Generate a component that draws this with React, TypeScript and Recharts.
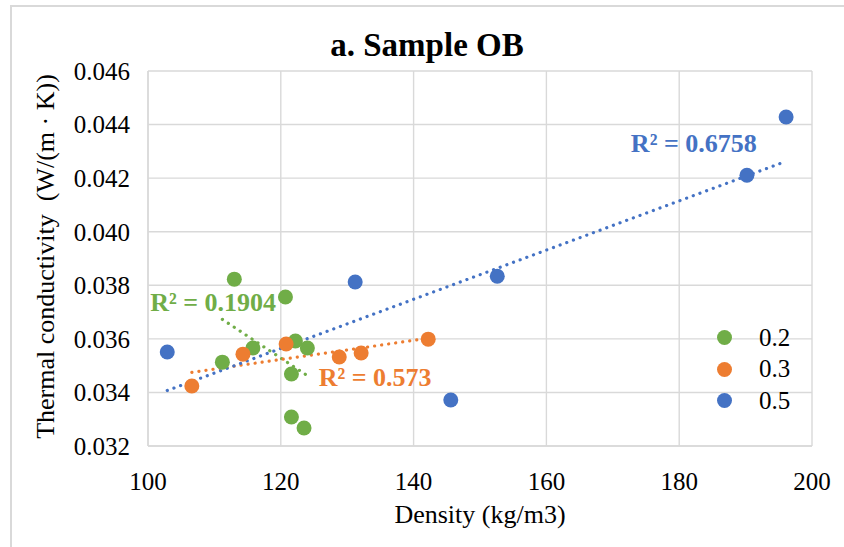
import React from 'react'
import {
  ScatterChart, Scatter, XAxis, YAxis, CartesianGrid,
  ReferenceLine, ReferenceDot,
} from 'recharts'

// density (kg/m3) and thermal conductivity (W/(m·K)) per series
const densityG = [113.0, 120.7, 111.2, 115.8, 122.2, 124.0, 121.6, 121.6, 123.5]
const lambdaG  = [0.03823, 0.03756, 0.03513, 0.03566, 0.03592, 0.03566, 0.03469, 0.03308, 0.03267]

const densityO = [106.6, 114.3, 120.8, 128.8, 132.1, 142.2]
const lambdaO  = [0.03424, 0.03543, 0.03581, 0.03532, 0.03547, 0.03599]

const densityB = [102.9, 131.2, 152.6, 145.6, 190.2, 196.1]
const lambdaB  = [0.03551, 0.03812, 0.03834, 0.03372, 0.04211, 0.04428]

const seriesNames = ['0.2', '0.3', '0.5']
const r2Labels    = ['R² = 0.1904', 'R² = 0.573', 'R² = 0.6758']
// where each R² label sits, in data units
const r2X = [109.8, 134.2, 182.2]
const r2Y = [0.0374, 0.03457, 0.04331]

const xTicks = [100, 120, 140, 160, 180, 200]
const yTicks = [0.032, 0.034, 0.036, 0.038, 0.040, 0.042, 0.044, 0.046]

const COLORS = ['#70ad47', '#ed7d31', '#4472c4']
const SERIF = '"Liberation Serif", "Times New Roman", serif'

const toPoints = (xs: number[], ys: number[]) => xs.map((x, i) => ({ x, y: ys[i] }))

// least squares line over the series' own x range
function trend(xs: number[], ys: number[]) {
  const n = xs.length
  const mx = xs.reduce((s, v) => s + v, 0) / n
  const my = ys.reduce((s, v) => s + v, 0) / n
  let sxy = 0, sxx = 0
  xs.forEach((x, i) => { sxy += (x - mx) * (ys[i] - my); sxx += (x - mx) ** 2 })
  const b = sxy / sxx
  const x0 = Math.min(...xs), x1 = Math.max(...xs)
  return [
    { x: x0, y: my + b * (x0 - mx) },
    { x: x1, y: my + b * (x1 - mx) },
  ]
}

const series = [
  toPoints(densityG, lambdaG),
  toPoints(densityO, lambdaO),
  toPoints(densityB, lambdaB),
]
const trends = [
  trend(densityG, lambdaG),
  trend(densityO, lambdaO),
  trend(densityB, lambdaB),
]

const YLabel = ({ viewBox }: any) => {
  const cx = 45
  const cy = viewBox.y + viewBox.height / 2 - 2
  return (
    <text
      x={cx} y={cy}
      transform={`rotate(-90 ${cx} ${cy})`}
      textAnchor="middle"
      dominantBaseline="central"
      fontFamily={SERIF}
      fontSize={26}
      fill="#000"
    >
      {'Thermal conductivity\u00a0\u00a0(W/(m\u00a0·\u00a0K))'}
    </text>
  )
}

const Dot = (props: any) => (
  <circle cx={props.cx} cy={props.cy} r={7.5} fill={props.fill} />
)

const tickStyle = { fontFamily: SERIF, fontSize: 25, fill: '#000' }

export default function App() {
  return (
    <div style={{ position: 'absolute', left: 0, top: 0, width: 844, height: 547, background: '#fff', overflow: 'hidden' }}>
      {/* outer frame */}
      <div style={{
        position: 'absolute', left: 10, top: 5, width: 900, height: 600,
        borderTop: '2px solid #d9d9d9', borderLeft: '2px solid #d9d9d9',
      }} />

      <ScatterChart
        width={844}
        height={547}
        margin={{ top: 71, right: 32, bottom: 0, left: 0 }}
        style={{ position: 'absolute', left: 0, top: 0 }}
      >
        <CartesianGrid stroke="#d9d9d9" strokeWidth={1.4} />
        <XAxis
          type="number"
          dataKey="x"
          domain={[100, 200]}
          ticks={xTicks}
          height={101}
          axisLine={{ stroke: '#d9d9d9', strokeWidth: 1.4 }}
          tickLine={false}
          tickMargin={20}
          tick={tickStyle}
          label={{
            value: 'Density (kg/m3)', position: 'insideBottom', offset: 24,
            style: { fontFamily: SERIF, fontSize: 26, fill: '#000' },
          }}
        />
        <YAxis
          type="number"
          dataKey="y"
          domain={[0.032, 0.046]}
          ticks={yTicks}
          width={148}
          axisLine={{ stroke: '#d9d9d9', strokeWidth: 1.4 }}
          tickLine={false}
          tickMargin={12}
          tickFormatter={v => Number(v).toFixed(3)}
          tick={tickStyle}
          label={<YLabel />}
        />

        {series.map((pts, i) => (
          <Scatter
            key={seriesNames[i]}
            name={seriesNames[i]}
            data={pts}
            fill={COLORS[i]}
            shape={<Dot />}
            isAnimationActive={false}
          />
        ))}

        {trends.map((seg, i) => (
          <ReferenceLine
            key={'t' + i}
            segment={seg}
            stroke={COLORS[i]}
            strokeWidth={3.2}
            strokeDasharray="0.1 7"
            strokeLinecap="round"
            ifOverflow="visible"
          />
        ))}

        {r2Labels.map((txt, i) => (
          <ReferenceDot
            key={'r' + i}
            x={r2X[i]}
            y={r2Y[i]}
            r={0}
            fill="none"
            stroke="none"
            ifOverflow="visible"
            label={{
              value: txt, position: 'center', fill: COLORS[i],
              fontFamily: SERIF, fontSize: 26, fontWeight: 700,
            }}
          />
        ))}
      </ScatterChart>

      {/* title */}
      <svg width={844} height={70} style={{ position: 'absolute', left: 0, top: 0 }}>
        <text x={427} y={56} textAnchor="middle" fontFamily={SERIF} fontWeight={700} fontSize={33} fill="#000">
          a. Sample OB
        </text>
      </svg>

      {/* legend */}
      <div style={{ position: 'absolute', left: 717, top: 322, fontFamily: SERIF, fontSize: 25 }}>
        {seriesNames.map((n, i) => (
          <div key={n} style={{ display: 'flex', alignItems: 'center', height: 31.5 }}>
            <span style={{
              display: 'inline-block', width: 15, height: 15, borderRadius: 8,
              background: COLORS[i], marginRight: 27,
            }} />
            <span>{n}</span>
          </div>
        ))}
      </div>
    </div>
  )
}
